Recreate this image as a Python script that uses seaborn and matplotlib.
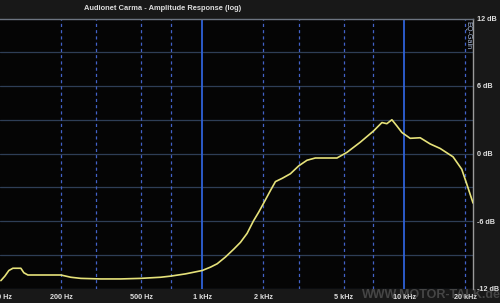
import numpy as np
import pandas as pd
import matplotlib
matplotlib.use("Agg")
import matplotlib.pyplot as plt
import seaborn as sns

# ---- data ----
freq_hz = [101, 105.7, 110.6, 115.8, 126.8, 131.2, 137.4, 159, 200, 224, 251, 315, 395,
           496, 622, 698, 827, 1000, 1099, 1186, 1303, 1432, 1545, 1667, 1791, 1904,
           2014, 2173, 2301, 2490, 2729, 3000, 3297, 3624, 4638, 5195, 6043, 7031,
           7737, 8185, 8667, 9174, 9710, 10670, 11960, 13400, 15010, 17400, 19200,
           20320, 21510, 21830]
gain_db = [-11.3, -10.9, -10.4, -10.2, -10.2, -10.6, -10.8, -10.8, -10.8, -11.0, -11.1,
           -11.15, -11.15, -11.1, -11.0, -10.9, -10.7, -10.4, -10.1, -9.8, -9.2, -8.5,
           -7.9, -7.1, -6.0, -5.2, -4.4, -3.3, -2.5, -2.2, -1.8, -1.1, -0.6, -0.4, -0.4,
           0.1, 1.0, 2.0, 2.75, 2.65, 3.0, 2.45, 1.87, 1.35, 1.4, 0.85, 0.45, -0.3, -1.4,
           -2.7, -4.05, -4.4]

x_tick_vals = [100, 200, 500, 1000, 2000, 5000, 10000, 20000]
x_tick_labels = ["100 Hz", "200 Hz", "500 Hz", "1 kHz", "2 kHz", "5 kHz", "10 kHz", "20 kHz"]
dashed_freqs = [200, 300, 500, 700, 2000, 3000, 5000, 7000, 20000]
solid_freqs = [1000, 10000]
y_tick_vals = [12, 6, 0, -6, -12]
y_tick_labels = ["12 dB", "6 dB", "0 dB", "-6 dB", "-12 dB"]
y_grid_vals = [9, 6, 3, 0, -3, -6, -9, -12]

title = "Audionet Carma - Amplitude Response (log)"

df = pd.DataFrame({"freq": freq_hz, "gain": gain_db})

sns.set_theme(style="dark")
plt.rcParams["font.family"] = ["Liberation Sans", "DejaVu Sans"]

fig = plt.figure(figsize=(5.0, 3.03), dpi=100, facecolor="#181818")
ax = fig.add_axes([0.0, (303 - 288.5) / 303, 473.3 / 500, 270 / 303])
ax.set_facecolor("#050505")

ax.set_xscale("log")
ax.set_xlim(101, 21900)
ax.set_ylim(-12, 12)

for yv in y_grid_vals:
    ax.axhline(yv, color="#2e3e56", lw=0.9, zorder=1)
for fv in dashed_freqs:
    ax.axvline(fv, color="#4262c8", lw=0.9, ls=(0, (2.5, 2.5)), zorder=1)
for fv in solid_freqs:
    ax.axvline(fv, color="#2f62d8", lw=1.3, zorder=1)

sns.lineplot(data=df, x="freq", y="gain", ax=ax, color="#e6e27a", lw=1.2,
             zorder=3, legend=False)

ax.set_xticks(x_tick_vals)
ax.set_xticklabels(x_tick_labels)
ax.xaxis.set_minor_locator(matplotlib.ticker.NullLocator())
ax.yaxis.tick_right()
ax.set_yticks(y_tick_vals)
ax.set_yticklabels(y_tick_labels)
ax.tick_params(axis="x", colors="#e0e0e0", labelsize=5.2, length=0, pad=4)
ax.tick_params(axis="y", colors="#e0e0e0", labelsize=5.2, length=0, pad=2.5)
for lab in ax.get_xticklabels() + ax.get_yticklabels():
    lab.set_fontweight("bold")
ax.set_xlabel("")
ax.set_ylabel("")
ax.grid(False)

for side in ["left", "bottom"]:
    ax.spines[side].set_visible(False)
ax.spines["top"].set_color("#6c7480")
ax.spines["top"].set_linewidth(1.0)
ax.spines["right"].set_color("#9a9a9a")
ax.spines["right"].set_linewidth(1.0)

fig.text(163 / 500, 1 - 9 / 303, title, ha="center", va="center",
         color="#dcdcdc", fontsize=5.4, fontweight="bold")
fig.text(468 / 500, 1 - 35 / 303, "EQ-Gain", ha="center", va="center",
         rotation=-90, color="#a8b8d8", fontsize=5.2)
fig.text(431 / 500, 1 - 295 / 303, "WWW.MOTOR-TALK.de", ha="center", va="center",
         color="#8a8a8a", alpha=0.4, fontsize=9, fontweight="bold")

fig.savefig("out.png", dpi=100, facecolor=fig.get_facecolor())
